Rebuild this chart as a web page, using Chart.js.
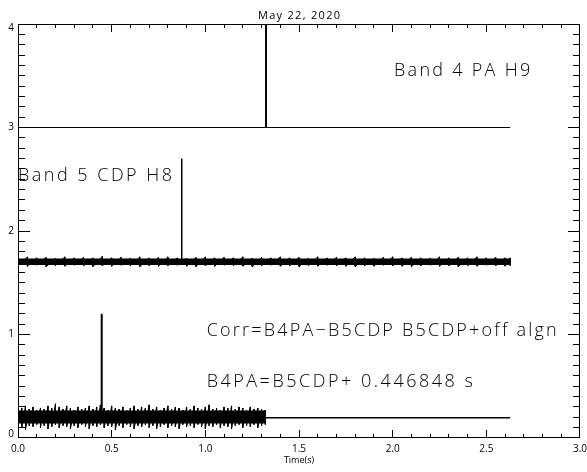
<!DOCTYPE html>
<html>
<head>
<meta charset="utf-8">
<title>May 22, 2020</title>
<script src="https://cdn.jsdelivr.net/npm/chart.js@4/dist/chart.umd.min.js"></script>
<style>
  html, body { margin: 0; padding: 0; background: #fff; }
  #wrap { width: 587px; height: 472px; }
</style>
</head>
<body>
<div id="wrap"><canvas id="corrChart" width="587" height="472"></canvas></div>
<script>
// Band 4 PA H9 trace: flat baseline with one pulse
const topTimes = [0, 2.627];
const topLevel = [3, 3];

// Band 5 CDP H8 trace: noise peaks (upper / lower) around a solid core
const midTimes = [0, 0.05, 0.1, 0.15, 0.2, 0.25, 0.3, 0.35, 0.4, 0.45,
  0.5, 0.55, 0.6, 0.65, 0.7, 0.75, 0.8, 0.85, 0.9, 0.95,
  1.0, 1.05, 1.1, 1.15, 1.2, 1.25, 1.3, 1.35, 1.4, 1.45,
  1.5, 1.55, 1.6, 1.65, 1.7, 1.75, 1.8, 1.85, 1.9, 1.95,
  2.0, 2.05, 2.1, 2.15, 2.2, 2.25, 2.3, 2.35, 2.4, 2.45,
  2.5, 2.55, 2.6, 2.627];
const midUpper = [1.74, 1.75, 1.74, 1.745, 1.735, 1.75, 1.74, 1.745, 1.74, 1.755,
  1.74, 1.745, 1.735, 1.75, 1.74, 1.745, 1.75, 1.74, 1.735, 1.745,
  1.75, 1.74, 1.745, 1.74, 1.75, 1.735, 1.745, 1.74, 1.75, 1.74,
  1.745, 1.735, 1.75, 1.74, 1.745, 1.74, 1.75, 1.74, 1.735, 1.745,
  1.75, 1.74, 1.745, 1.74, 1.735, 1.75, 1.74, 1.745, 1.74, 1.75,
  1.74, 1.745, 1.74, 1.74];
const midLower = [1.665, 1.66, 1.67, 1.655, 1.665, 1.66, 1.67, 1.665, 1.655, 1.665,
  1.66, 1.67, 1.665, 1.655, 1.665, 1.66, 1.665, 1.67, 1.66, 1.655,
  1.665, 1.66, 1.67, 1.665, 1.66, 1.655, 1.665, 1.67, 1.66, 1.665,
  1.655, 1.665, 1.66, 1.67, 1.665, 1.66, 1.655, 1.665, 1.66, 1.67,
  1.665, 1.66, 1.655, 1.665, 1.67, 1.66, 1.665, 1.655, 1.665, 1.66,
  1.67, 1.665, 1.66, 1.665];
const midCoreTimes = [0, 2.627];
const midCoreTop = [1.735, 1.735];
const midCoreBottom = [1.672, 1.672];

// Correlation trace: noisy part then flat tail
const corrTimes = [0, 0.02, 0.04, 0.06, 0.08, 0.10, 0.12, 0.14, 0.16, 0.18,
  0.20, 0.22, 0.24, 0.26, 0.28, 0.30, 0.32, 0.34, 0.36, 0.38,
  0.40, 0.42, 0.44, 0.46, 0.48, 0.50, 0.52, 0.54, 0.56, 0.58,
  0.60, 0.62, 0.64, 0.66, 0.68, 0.70, 0.72, 0.74, 0.76, 0.78,
  0.80, 0.82, 0.84, 0.86, 0.88, 0.90, 0.92, 0.94, 0.96, 0.98,
  1.00, 1.02, 1.04, 1.06, 1.08, 1.10, 1.12, 1.14, 1.16, 1.18,
  1.20, 1.22, 1.24, 1.26, 1.28, 1.30, 1.32];
const corrUpper = [0.27, 0.29, 0.31, 0.28, 0.30, 0.27, 0.29, 0.28, 0.31, 0.29,
  0.33, 0.30, 0.28, 0.31, 0.29, 0.27, 0.30, 0.28, 0.29, 0.31,
  0.28, 0.30, 0.32, 0.29, 0.27, 0.31, 0.29, 0.28, 0.30, 0.27,
  0.29, 0.31, 0.28, 0.30, 0.29, 0.32, 0.28, 0.30, 0.27, 0.29,
  0.31, 0.28, 0.30, 0.29, 0.27, 0.30, 0.28, 0.31, 0.29, 0.28,
  0.30, 0.32, 0.28, 0.29, 0.27, 0.30, 0.29, 0.31, 0.28, 0.30,
  0.29, 0.27, 0.30, 0.28, 0.29, 0.28, 0.27];
const corrLower = [0.12, 0.10, 0.08, 0.12, 0.11, 0.13, 0.10, 0.12, 0.09, 0.11,
  0.13, 0.10, 0.12, 0.11, 0.09, 0.12, 0.10, 0.13, 0.11, 0.09,
  0.12, 0.11, 0.13, 0.10, 0.12, 0.11, 0.08, 0.12, 0.10, 0.13,
  0.11, 0.09, 0.12, 0.11, 0.13, 0.10, 0.12, 0.09, 0.11, 0.13,
  0.10, 0.12, 0.11, 0.09, 0.13, 0.11, 0.12, 0.10, 0.13, 0.11,
  0.09, 0.12, 0.11, 0.13, 0.10, 0.12, 0.11, 0.09, 0.12, 0.13,
  0.10, 0.12, 0.11, 0.13, 0.10, 0.12, 0.13];
const corrCoreTimes = [0, 1.32];
const corrCoreTop = [0.265, 0.265];
const corrCoreBottom = [0.14, 0.14];
const tailTimes = [1.32, 2.627];
const tailLevel = [0.196, 0.196];

// Pulses: Band 4, Band 5, correlation peak (offset 0.446848 s)
const spikeTimes = [1.324, 0.874, 0.446848];
const spikeBase = [3, 1.70, 0.20];
const spikePeak = [4, 2.70, 1.20];

// Axis ranges and ticks
const xRange = [0, 3];
const yRange = [0, 4];
const xMajor = [0, 0.5, 1.0, 1.5, 2.0, 2.5, 3.0];
const xTickLabels = ['0.0', '0.5', '1.0', '1.5', '2.0', '2.5', '3.0'];
const yMajor = [0, 1, 2, 3, 4];
const yTickLabels = ['0', '1', '2', '3', '4'];
const minorStep = 0.1;

const titleText = 'May 22, 2020';
const xAxisTitle = 'Time(s)';

// Text notes in data units: start x, end x, baseline y
const notes = [
  { text: 'Band 4 PA H9', x0: 2.007, x1: 2.734, y: 3.498 },
  { text: 'Band 5 CDP H8', x0: 0.0, x1: 0.822, y: 2.486 },
  { text: 'Corr=B4PA\u2212B5CDP B5CDP+off algn', x0: 1.007, x1: 2.876, y: 0.986 },
  { text: 'B4PA=B5CDP+ 0.446848 s', x0: 1.007, x1: 2.428, y: 0.496 }
];

const pairs = (xs, ys) => xs.map((x, i) => ({ x: x, y: ys[i] }));
// up/down strokes between each sample's high and low value
const zigzag = (ts, hi, lo) => ts.flatMap((t, i) => [{ x: t, y: hi[i] }, { x: t, y: lo[i] }]);
const spikeLine = i => [{ x: spikeTimes[i], y: spikeBase[i] }, { x: spikeTimes[i], y: spikePeak[i] }];

const FONT = '"Open Sans", "Noto Sans", "DejaVu Sans", sans-serif';
const TICK_W = 1;

// draw text stretched with letter spacing so it runs from px0 to px1
function drawFitted(ctx, text, px0, px1, baseline, size, weight) {
  ctx.font = weight + ' ' + size + 'px ' + FONT;
  ctx.letterSpacing = '0px';
  const w = ctx.measureText(text).width;
  const extra = (px1 - px0 - w) / Math.max(1, text.length - 1);
  ctx.letterSpacing = extra.toFixed(2) + 'px';
  ctx.textAlign = 'left';
  ctx.textBaseline = 'alphabetic';
  ctx.fillText(text, px0, baseline);
  ctx.letterSpacing = '0px';
}

const isMajor = (list, v) => list.some(m => Math.abs(m - v) < 1e-6);

// IDL-style boxed axes: inward ticks on all four sides
const boxAxes = {
  id: 'boxAxes',
  afterDraw(chart) {
    const ctx = chart.ctx;
    const a = chart.chartArea;
    const xs = chart.scales.x, ys = chart.scales.y;
    const L = Math.round(a.left), R = Math.round(a.right) - 1;
    const T = Math.round(a.top), B = Math.round(a.bottom) - 1;
    ctx.save();
    ctx.fillStyle = '#000';

    // frame
    ctx.fillRect(L, T, R - L + 1, 1);
    ctx.fillRect(L, B, R - L + 1, 1);
    ctx.fillRect(L, T, 1, B - T + 1);
    ctx.fillRect(R, T, 1, B - T + 1);

    // ticks along x (bottom and top)
    const nx = Math.round((xRange[1] - xRange[0]) / minorStep);
    for (let k = 0; k <= nx; k++) {
      const v = xRange[0] + k * minorStep;
      const px = Math.min(R - TICK_W + 1, Math.round(xs.getPixelForValue(v) - TICK_W / 2));
      const len = isMajor(xMajor, v) ? 8 : 4;
      ctx.fillRect(px, B - len + 1, TICK_W, len);
      ctx.fillRect(px, T, TICK_W, len);
    }
    // ticks along y (left and right)
    const ny = Math.round((yRange[1] - yRange[0]) / minorStep);
    for (let k = 0; k <= ny; k++) {
      const v = yRange[0] + k * minorStep;
      const py = Math.min(B - TICK_W + 1, Math.round(ys.getPixelForValue(v) - TICK_W / 2));
      const len = isMajor(yMajor, v) ? 12 : 7;
      ctx.fillRect(L, py, len, TICK_W);
      ctx.fillRect(R - len + 1, py, len, TICK_W);
    }

    ctx.font = '10px ' + FONT;
    ctx.textAlign = 'center';
    ctx.textBaseline = 'top';
    xMajor.forEach((v, i) => {
      ctx.fillText(xTickLabels[i], xs.getPixelForValue(v), a.bottom + 6);
    });
    ctx.textAlign = 'right';
    ctx.textBaseline = 'middle';
    yMajor.forEach((v, i) => {
      let py = ys.getPixelForValue(v);
      py = Math.min(a.bottom - 4, Math.max(a.top + 4, py));
      ctx.fillText(yTickLabels[i], a.left - 4, py);
    });

    ctx.font = '9px ' + FONT;
    ctx.textAlign = 'center';
    ctx.textBaseline = 'middle';
    ctx.fillText(xAxisTitle, (a.left + a.right) / 2, a.bottom + 22);

    const cx = (a.left + a.right) / 2;
    drawFitted(ctx, titleText, cx - 41, cx + 41, a.top - 5, 11, 'normal');

    notes.forEach(n => {
      drawFitted(ctx, n.text, xs.getPixelForValue(n.x0), xs.getPixelForValue(n.x1),
        ys.getPixelForValue(n.y), 18, '300');
    });
    ctx.restore();
  }
};

const black = '#000';
new Chart(document.getElementById('corrChart'), {
  type: 'line',
  data: {
    datasets: [
      { data: pairs(topTimes, topLevel), borderColor: black, borderWidth: 1 },
      { data: spikeLine(0), borderColor: black, borderWidth: 2 },
      { data: pairs(midCoreTimes, midCoreTop), borderWidth: 0, fill: '+1', backgroundColor: black },
      { data: pairs(midCoreTimes, midCoreBottom), borderWidth: 0 },
      { data: zigzag(midTimes, midUpper, midLower), borderColor: black, borderWidth: 1 },
      { data: spikeLine(1), borderColor: black, borderWidth: 1.5 },
      { data: pairs(corrCoreTimes, corrCoreTop), borderWidth: 0, fill: '+1', backgroundColor: black },
      { data: pairs(corrCoreTimes, corrCoreBottom), borderWidth: 0 },
      { data: zigzag(corrTimes, corrUpper, corrLower), borderColor: black, borderWidth: 1 },
      { data: pairs(tailTimes, tailLevel), borderColor: black, borderWidth: 1.5 },
      { data: spikeLine(2), borderColor: black, borderWidth: 2 }
    ]
  },
  options: {
    responsive: false,
    animation: false,
    layout: { padding: { left: 18, right: 7, top: 24, bottom: 34 } },
    scales: {
      x: { type: 'linear', min: xRange[0], max: xRange[1], display: false },
      y: { type: 'linear', min: yRange[0], max: yRange[1], display: false }
    },
    elements: { point: { radius: 0 }, line: { tension: 0 } },
    plugins: { legend: { display: false }, tooltip: { enabled: false } }
  },
  plugins: [boxAxes]
});
</script>
</body>
</html>
